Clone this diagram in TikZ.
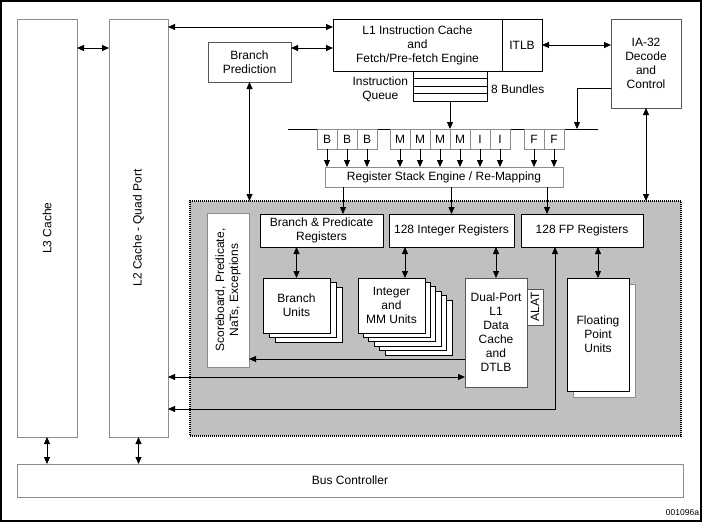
\documentclass[tikz,border=0pt]{standalone}
\usepackage{fontspec}
\setmainfont{Liberation Sans}
\usetikzlibrary{arrows.meta}
\newcommand\mybox[7]{\node[#1, minimum width={(#5-#3)*1pt}, minimum height={(#6-#4)*1pt}] (#2) at ({(#3+#5)/2},{(#4+#6)/2}) {#7};}
\definecolor{coregray}{HTML}{C0C0C0}
\definecolor{lgray}{HTML}{8C8C8C}
\definecolor{dgray}{HTML}{555555}
\begin{document}
\begin{tikzpicture}[x=1pt,y=-1pt,
  every node/.style={font=\fontsize{12}{14}\selectfont, inner sep=0pt, outer sep=0pt, align=center},
  box/.style={draw=black, line width=0.8pt, fill=white},
  gbox/.style={draw=lgray, line width=0.8pt, fill=white},
  dbox/.style={draw=dgray, line width=0.8pt, fill=white},
  tip/.tip={Triangle[length=7pt,width=6pt]},
  arr/.style={-tip, line width=0.8pt},
  dbl/.style={tip-tip, line width=0.8pt},
  ln/.style={line width=0.8pt},
  stack/.style={draw=black, line width=0.8pt, fill=white}]
\useasboundingbox (0,0) rectangle (703,527);
\draw[line width=1.2pt] (1,1) rectangle (701,521);
% caches
\mybox{gbox}{L3}{17}{19}{77}{437}{}
\node[rotate=90] at (L3.center) {L3 Cache};
\mybox{gbox}{L2}{109}{19}{168}{437}{}
\node[rotate=90] at (L2.center) {L2 Cache - Quad Port};
\mybox{gbox}{Bus}{17}{464}{683}{497}{Bus Controller}
% front end
\mybox{dbox}{BP}{208}{42}{291}{82}{Branch\\Prediction}
\mybox{box}{L1}{333}{19}{502}{71}{L1 Instruction Cache\\and\\Fetch/Pre-fetch Engine}
\mybox{box}{ITLB}{502}{19}{542}{71}{ITLB}
\mybox{dbox}{IA}{611}{19}{681}{108}{IA-32\\Decode\\and\\Control}
\mybox{box}{Q}{413}{71}{487}{101}{}
\draw[ln] (Q.west |- 0,78) -- (Q.east |- 0,78);
\draw[ln] (Q.west |- 0,86) -- (Q.east |- 0,86);
\draw[ln] (Q.west |- 0,93) -- (Q.east |- 0,93);
\node[anchor=east] (QL) at (408,89.5) {Instruction\\Queue};
\node[anchor=west] (QB) at (491,89) {8 Bundles};
% dispersal bus
\coordinate (busL) at (288,129);
\coordinate (busR) at (598,129);
\draw[ln] (busL) -- (busR);
\foreach \n/\x/\t in {b1/317/B,b2/337/B,b3/357/B,m1/390/M,m2/410/M,m3/430/M,m4/450/M,i1/470/I,i2/490/I,f1/524/F,f2/544/F}{
  \mybox{gbox}{\n}{\x}{129}{\x+20}{149}{\t}
}
\mybox{gbox}{RSE}{325}{167}{563}{187}{Register Stack Engine / Re-Mapping}
\foreach \n in {b1,b2,b3,m1,m2,m3,m4,i1,i2,f1,f2}{
  \draw[arr] (\n.south) -- (\n.south |- RSE.north);
}
% core region
\node[draw=black, line width=1.3pt, dash pattern=on 1pt off 1pt, fill=coregray, minimum width=491pt, minimum height=235pt] (core) at (435.5,318.5) {};
\mybox{gbox}{SB}{207}{213}{249}{367}{}
\node[rotate=90] at (SB.center) {Scoreboard, Predicate,\\NaTs, Exceptions};
\mybox{box}{BPR}{260}{214}{383}{247}{Branch \& Predicate\\Registers}
\mybox{box}{IR}{389}{214}{514}{247}{128 Integer Registers}
\mybox{box}{FR}{521}{214}{643}{247}{128 FP Registers}
% branch units stack
\foreach \i in {2,1}{
  \draw[stack] ({263+6*\i},{278+4.5*\i}) rectangle ++(67,55);
}
\mybox{box}{BU}{263}{278}{330}{333}{Branch\\Units}
% integer units stack
\foreach \i in {5,4,3,2,1}{
  \draw[stack] ({358+5.4*\i},{278+4.4*\i}) rectangle ++(67,55);
}
\mybox{box}{IU}{358}{278}{425}{333}{Integer\\and\\MM Units}
\mybox{dbox}{DT}{465}{278}{527}{387}{Dual-Port\\L1\\Data\\Cache\\and\\DTLB}
\mybox{dbox}{AL}{527}{289}{543}{325}{}
\node[rotate=90] at (AL.center) {ALAT};
\draw[draw=lgray, line width=0.8pt, fill=white] (573,284) rectangle (635,397);
\mybox{box}{FU}{567}{278}{629}{391}{Floating\\Point\\Units}
% connectors
\draw[dbl] (L3.east |- 0,48) -- (L2.west |- 0,48);
\draw[dbl] (L2.east |- 0,27) -- (L1.west |- 0,27);
\draw[dbl] (BP.east |- 0,48) -- (L1.west |- 0,48);
\draw[dbl] (BP.south) -- (BP.south |- core.north);
\draw[dbl] (ITLB.east |- 0,45) -- (IA.west |- 0,45);
\draw[arr] (IA.west |- 0,88) -| (577,0 |- busL);
\draw[dbl] (IA.south) -- (IA.south |- core.north);
\draw[arr] (Q.south) -- (Q.south |- busL);
\draw[arr] (343,0 |- RSE.south) -- (343,0 |- BPR.north);
\draw[arr] (IR.north |- RSE.south) -- (IR.north);
\draw[arr] (547,0 |- RSE.south) -- (547,0 |- FR.north);
\draw[dbl] (BPR.south -| BU.north) -- (BU.north);
\draw[dbl] (405,0 |- IR.south) -- (405,0 |- IU.north);
\draw[dbl] (DT.north |- IR.south) -- (DT.north);
\draw[dbl] (FU.north |- FR.south) -- (FU.north);
\draw[arr] (DT.west |- 0,359) -- (SB.east |- 0,359);
\draw[dbl] (L2.east |- 0,377) -- (DT.west |- 0,377);
\draw[dbl] (L2.east |- 0,409) -| (555,0 |- FR.south);
\draw[dbl] (L3.south) -- (L3.south |- Bus.north);
\draw[dbl] (L2.south) -- (L2.south |- Bus.north);
\node[font=\fontsize{8.5}{10}\selectfont, anchor=east] (id) at (699,513) {001096a};
\end{tikzpicture}
\end{document}
